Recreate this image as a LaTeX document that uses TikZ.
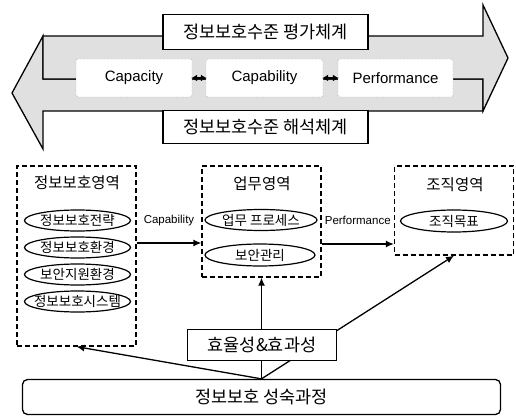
\documentclass[tikz,border=0pt]{standalone}
\usepackage{fontspec}
\setmainfont{Liberation Sans}
\newfontfamily\hangul{Noto Sans CJK KR}
\usetikzlibrary{shapes.geometric,arrows.meta}

\begin{document}
\begin{tikzpicture}[x=1pt,y=-1pt,
      every node/.style = {align=center, inner sep=0pt},
      band/.style = {draw, line width=1.3pt, fill=black!12, line join=miter},
      tag/.style = {draw, line width=1.3pt, fill=white,
        font=\hangul\fontsize{17.5}{17.5}\selectfont},
      phase/.style = {draw=black!55, densely dotted, fill=white, rounded corners=2pt,
        minimum height=38pt, font=\fontsize{15}{15}\selectfont},
      link/.style = {{Latex[length=6pt,width=7pt]}-{Latex[length=6pt,width=7pt]}, line width=2pt, shorten <=-1pt, shorten >=-1pt},
      area/.style = {draw, dash pattern=on 5pt off 3pt, line width=1.3pt, minimum width=119pt},
      areaname/.style = {font=\hangul\fontsize{15.5}{15.5}\selectfont},
      item/.style = {ellipse, draw, line width=1.2pt, minimum width=106pt, minimum height=21pt,
        inner xsep=-9pt, font=\hangul\fontsize{13.5}{13.5}\selectfont},
      flow/.style = {-{Latex[length=8pt,width=7pt]}, line width=1.3pt},
      flowname/.style = {font=\fontsize{11.5}{11.5}\selectfont}]
  \useasboundingbox (0,0) rectangle (516,417);
  % the two opposed arrows
  \draw[band] (483,79) -- (43,79) -- (43,36) -- (12,93) -- (43,149) -- (43,111) -- (483,111) -- cycle;
  \draw[band] (43,36) -- (483,36) -- (483,5) -- (508,58) -- (483,111) -- (483,79) -- (43,79) -- cycle;
  \node[tag, minimum width=205pt, minimum height=35pt] (evalbox) at (265.5,32) {정보보호수준 평가체계};
  \node[tag, minimum width=205pt, minimum height=33pt] (readbox) at (265.5,127) {정보보호수준 해석체계};
  \node[phase, minimum width=116pt] (capacity) at (134,78) {Capacity};
  \node[phase, minimum width=117pt] (capability) at (264.5,78) {Capability};
  \node[phase, minimum width=115pt] (performance) at (395.5,78) {Performance};
  \draw[link] (capacity) -- (capability);
  \draw[link] (capability) -- (performance);

  % areas
  \node[area, minimum height=180pt] (secarea) at (76.5,256) {};
  \node[area, minimum height=111pt] (bizarea) at (261.5,221.5) {};
  \node[area, minimum height=89pt] (orgarea) at (454,210.5) {};
  \node[areaname] (sectitle) at (77,183) {정보보호영역};
  \node[areaname] (biztitle) at (262,184) {업무영역};
  \node[areaname] (orgtitle) at (455,185) {조직영역};
  \foreach \txt [count=\i] in {정보보호전략,정보보호환경,보안지원환경,정보보호시스템}
    \node[item] (sec\i) at (77.5,{193.5+27*\i}) {\txt};
  \node[item, minimum width=112pt] (biz1) at (261,220) {업무 프로세스};
  \node[item, minimum width=110pt, minimum height=22pt] (biz2) at (260,255) {보안관리};
  \node[item, minimum width=107pt, minimum height=22pt] (org1) at (454,221) {조직목표};

  \coordinate (capline) at (0,243);
  \coordinate (perfline) at (0,244);
  \draw[flow] (secarea.east |- capline) -- node[flowname, above=16pt] (capname) {Capability} (bizarea.west |- capline);
  \draw[flow] (bizarea.east |- perfline) -- node[flowname, above=19pt] (perfname) {Performance} (orgarea.west |- perfline);

  % maturity process
  \node[tag, rounded corners=5pt, minimum width=478pt, minimum height=35pt] (growth) at (261.5,397) {정보보호 성숙과정};
  \draw[flow] (growth.north) -- (secarea.south);
  \draw[flow] (growth.north) -- (bizarea.south);
  \draw[flow] (growth.north) -- (orgarea.south);
  \node[tag, minimum width=149pt, minimum height=31pt] (effect) at (262,345) {효율성\&효과성};
\end{tikzpicture}
\end{document}
